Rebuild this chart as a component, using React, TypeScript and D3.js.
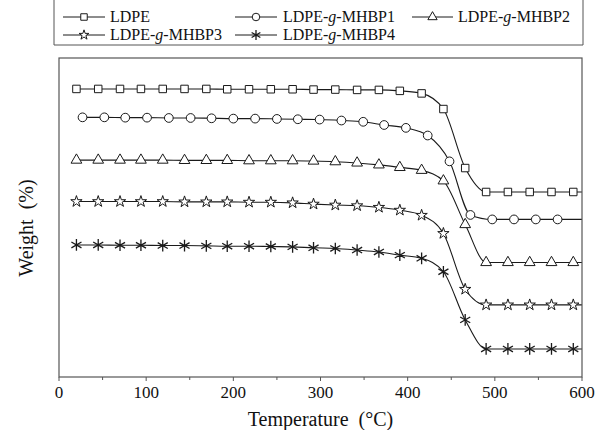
import React from 'react';
import * as d3 from 'd3';

// marker temperatures (°C)
const tempsA = [20, 45, 70, 94, 119, 144, 169, 193, 218, 243, 268, 292, 317, 342, 367, 391, 416, 441, 466, 490, 515, 540, 565, 590];
const tempsB = [27, 52, 76, 101, 126, 151, 175, 200, 225, 250, 274, 299, 324, 349, 373, 398, 423, 448, 472, 497, 522, 547, 572];
const endTemp = 600;

// weight values (offset curves, no y scale shown)
const ldpe = [90.3, 90.3, 90.3, 90.3, 90.3, 90.3, 90.3, 90.2, 90.2, 90.2, 90.2, 90.1, 90.1, 90.0, 90.0, 89.7, 88.9, 84.0, 65.5, 58.0, 58.0, 58.0, 58.0, 58.0];
const mhbp1 = [81.4, 81.4, 81.3, 81.3, 81.2, 81.2, 81.1, 81.0, 81.0, 80.9, 80.8, 80.7, 80.4, 80.0, 79.0, 78.1, 75.7, 67.6, 50.8, 49.4, 49.4, 49.4, 49.4];
const mhbp2 = [68.0, 68.0, 68.0, 68.0, 68.0, 67.9, 67.9, 67.9, 67.8, 67.8, 67.8, 67.7, 67.5, 67.1, 66.5, 65.7, 64.8, 61.5, 47.8, 35.9, 35.9, 35.9, 35.9, 35.9];
const mhbp3 = [55.0, 55.0, 55.0, 55.0, 55.0, 54.9, 54.9, 54.9, 54.8, 54.8, 54.6, 54.2, 53.9, 53.7, 53.2, 52.3, 50.7, 45.0, 27.5, 22.6, 22.6, 22.6, 22.6, 22.6];
const mhbp4 = [41.4, 41.4, 41.3, 41.3, 41.2, 41.2, 41.1, 41.0, 41.0, 40.9, 40.8, 40.5, 40.3, 39.8, 39.2, 38.2, 37.2, 33.0, 17.9, 8.8, 8.8, 8.8, 8.8, 8.8];

const seriesNames = ['LDPE', 'LDPE-g-MHBP1', 'LDPE-g-MHBP2', 'LDPE-g-MHBP3', 'LDPE-g-MHBP4'];
const xTicks = [0, 100, 200, 300, 400, 500, 600];
const xMinorTicks = [50, 150, 250, 350, 450, 550];

const W = 595;
const H = 430;
const left = 59, right = 582, top = 58, bottom = 377;
const font = "'Liberation Serif', serif";
const ink = '#1a1a1a';
const frame = '#555';

const App = () => {
  const x = d3.scaleLinear().domain([0, 600]).range([left, right]);
  const y = d3.scaleLinear().domain([0, 100]).range([bottom, top]);

  const series = [
    { name: seriesNames[0], temps: tempsA, vals: ldpe, sym: d3.symbolSquare, size: 56, fill: '#fff', sw: 1 },
    { name: seriesNames[1], temps: tempsB, vals: mhbp1, sym: d3.symbolCircle, size: 60, fill: '#fff', sw: 1 },
    { name: seriesNames[2], temps: tempsA, vals: mhbp2, sym: d3.symbolTriangle, size: 50, fill: '#fff', sw: 1 },
    { name: seriesNames[3], temps: tempsA, vals: mhbp3, sym: d3.symbolStar, size: 40, fill: '#fff', sw: 1 },
    { name: seriesNames[4], temps: tempsA, vals: mhbp4, sym: d3.symbolAsterisk, size: 95, fill: 'none', sw: 1.3 },
  ];

  const line = d3.line<[number, number]>()
    .x(d => x(d[0]))
    .y(d => y(d[1]))
    .curve(d3.curveMonotoneX);

  // legend layout: [row, lineStart, lineEnd, textX]
  const legendPos = [
    [0, 63, 105, 110],
    [0, 235, 277, 283],
    [0, 412, 453, 458],
    [1, 63, 105, 110],
    [1, 235, 277, 283],
  ];
  const rowBase = [22, 40];

  const renderLabel = (name: string) => {
    const parts = name.split('-g-');
    if (parts.length === 1) return name;
    return (
      <>
        {parts[0]}-<tspan fontStyle="italic">g</tspan>-{parts[1]}
      </>
    );
  };

  return (
    <svg width={W} height={H} style={{ position: 'absolute', left: 0, top: 0, background: '#fff', fontFamily: font }}>
      {/* legend box */}
      <path d={`M54,0 V45 H583 V0`} fill="none" stroke={frame} strokeWidth={1} />
      {series.map((s, i) => {
        const [row, x1, x2, tx] = legendPos[i];
        const ly = rowBase[row] - 5;
        return (
          <g key={s.name}>
            <line x1={x1} x2={x2} y1={ly} y2={ly} stroke={ink} strokeWidth={1} />
            <path
              d={d3.symbol(s.sym, s.size * 0.75)() as string}
              transform={`translate(${(x1 + x2) / 2},${ly})`}
              fill={s.fill}
              stroke={ink}
              strokeWidth={s.sw}
            />
            <text x={tx} y={rowBase[row]} fontSize={16} fill="#111">{renderLabel(s.name)}</text>
          </g>
        );
      })}

      {/* curves */}
      {series.map(s => {
        const pts = s.temps.map((t, j) => [t, s.vals[j]] as [number, number]);
        const linePts = [...pts, [endTemp, s.vals[s.vals.length - 1]] as [number, number]];
        return (
          <g key={s.name + '-c'}>
            <path d={line(linePts) as string} fill="none" stroke={ink} strokeWidth={1.1} />
            {pts.map((p, j) => (
              <path
                key={j}
                d={d3.symbol(s.sym, s.size)() as string}
                transform={`translate(${x(p[0])},${y(p[1])})`}
                fill={s.fill}
                stroke={ink}
                strokeWidth={s.sw}
              />
            ))}
          </g>
        );
      })}

      {/* frame */}
      <rect x={left} y={top} width={right - left} height={bottom - top} fill="none" stroke={frame} strokeWidth={1.2} />

      {/* x axis ticks */}
      {xTicks.map(t => (
        <g key={t}>
          <line x1={x(t)} x2={x(t)} y1={bottom} y2={bottom + 4} stroke={frame} />
          <text x={x(t)} y={398} fontSize={17} textAnchor="middle" fill="#111">{t}</text>
        </g>
      ))}
      {xMinorTicks.map(t => (
        <line key={t} x1={x(t)} x2={x(t)} y1={bottom} y2={bottom + 3} stroke={frame} />
      ))}

      <text x={(left + right) / 2} y={426} fontSize={20} textAnchor="middle" fill="#111" style={{ whiteSpace: 'pre' }}>
        {'Temperature  (°C)'}
      </text>
      <text
        transform={`translate(33,228) rotate(-90)`}
        fontSize={20}
        textAnchor="middle"
        fill="#111"
        style={{ whiteSpace: 'pre' }}
      >
        {'Weight  (%)'}
      </text>
    </svg>
  );
};

export default App;
